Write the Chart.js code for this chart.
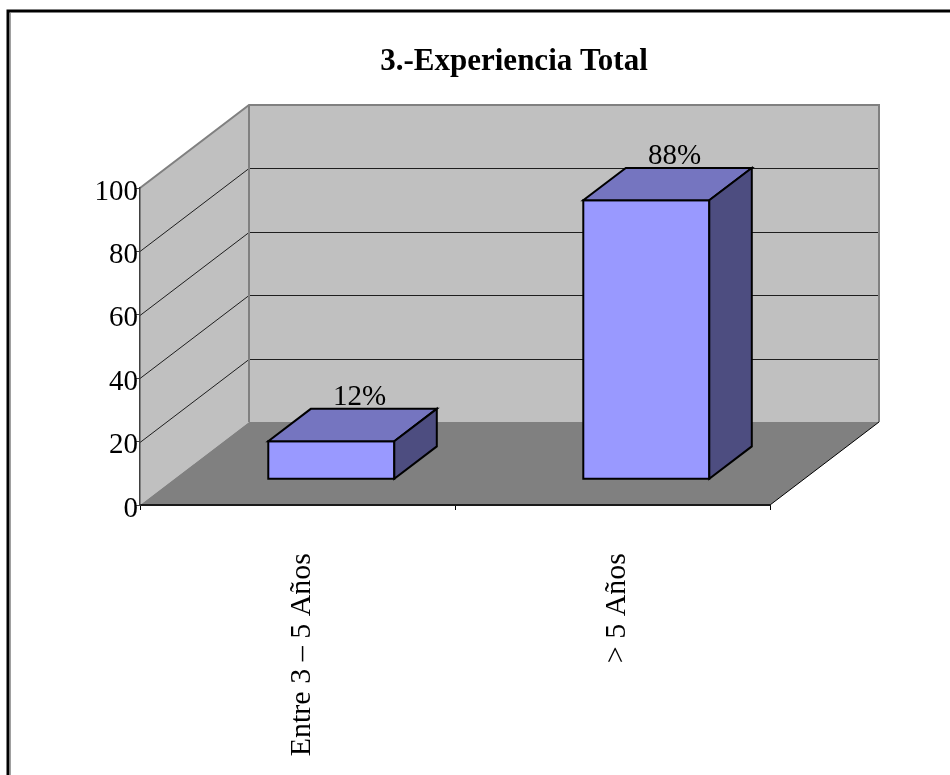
<!DOCTYPE html>
<html>
<head>
<meta charset="utf-8">
<script src="https://cdn.jsdelivr.net/npm/chart.js@4/dist/chart.umd.min.js"></script>
<style>
  html, body { margin: 0; padding: 0; background: #fff; }
  #wrap { width: 950px; height: 775px; position: relative; }
</style>
</head>
<body>
<div id="wrap"><canvas id="chart" width="950" height="775"></canvas></div>
<script>
// ---- data ----
const CHART_TITLE = '3.-Experiencia Total';
const categories = ['Entre 3 \u2013 5 A\u00f1os', '> 5 A\u00f1os'];
const percentValues = [12, 88];
const yTickValues = [0, 20, 40, 60, 80, 100];

// ---- 3D look ----
const DEPTH_X = 109;     // horizontal shift from front plane to back wall
const DEPTH_Y = 83;      // vertical shift from front plane to back wall
const BAR_FRONT = 0.31;  // bar front face position in depth (0 = front, 1 = back)
const BAR_BACK = 0.70;   // bar back face position in depth
const SERIF = '"Liberation Serif", "Times New Roman", serif';

const WALL = '#c0c0c0';
const WALL_EDGE = '#808080';
const FLOOR = '#808080';
const BAR_FRONT_COLOR = '#9999ff';
const BAR_TOP_COLOR = '#7575c0';
const BAR_SIDE_COLOR = '#4d4d80';

function poly(ctx, pts) {
  ctx.beginPath();
  ctx.moveTo(pts[0][0], pts[0][1]);
  for (let i = 1; i < pts.length; i++) ctx.lineTo(pts[i][0], pts[i][1]);
  ctx.closePath();
}

const room3d = {
  id: 'room3d',
  beforeDraw(chart) {
    const { ctx, chartArea: a, scales: { y } } = chart;
    const y0 = y.getPixelForValue(y.min);
    const yMax = y.getPixelForValue(y.max);
    const L = a.left, R = a.right;
    ctx.save();

    // outer frame
    ctx.strokeStyle = '#000';
    ctx.lineWidth = 3;
    ctx.beginPath();
    ctx.moveTo(8, 775);
    ctx.lineTo(8, 11);
    ctx.lineTo(950, 11);
    ctx.stroke();
    ctx.strokeStyle = '#a0a0a0';
    ctx.lineWidth = 1;
    ctx.beginPath();
    ctx.moveTo(10.5, 13);
    ctx.lineTo(10.5, 775);
    ctx.stroke();

    // title
    ctx.fillStyle = '#000';
    ctx.font = 'bold 31px ' + SERIF;
    ctx.textAlign = 'center';
    ctx.textBaseline = 'alphabetic';
    ctx.fillText(CHART_TITLE, 514, 70);

    // left wall
    ctx.fillStyle = WALL;
    poly(ctx, [[L, y0], [L, yMax], [L + DEPTH_X, yMax - DEPTH_Y], [L + DEPTH_X, y0 - DEPTH_Y]]);
    ctx.fill();
    // back wall
    ctx.fillRect(L + DEPTH_X, yMax - DEPTH_Y, R - L, y0 - yMax);
    // floor
    ctx.fillStyle = FLOOR;
    poly(ctx, [[L, y0], [R, y0], [R + DEPTH_X, y0 - DEPTH_Y], [L + DEPTH_X, y0 - DEPTH_Y]]);
    ctx.fill();

    // gridlines on both walls
    ctx.strokeStyle = '#1e1e1e';
    ctx.lineWidth = 1;
    y.ticks.forEach(t => {
      if (t.value <= y.min || t.value >= y.max) return;
      const py = Math.round(y.getPixelForValue(t.value)) + 0.5;
      ctx.beginPath();
      ctx.moveTo(L, py);
      ctx.lineTo(L + DEPTH_X, py - DEPTH_Y);
      ctx.lineTo(R + DEPTH_X, py - DEPTH_Y);
      ctx.stroke();
    });

    // wall edges
    ctx.strokeStyle = WALL_EDGE;
    ctx.lineWidth = 2;
    ctx.beginPath();
    ctx.moveTo(L, yMax);
    ctx.lineTo(L + DEPTH_X, yMax - DEPTH_Y);
    ctx.lineTo(R + DEPTH_X, yMax - DEPTH_Y);
    ctx.lineTo(R + DEPTH_X, y0 - DEPTH_Y);
    ctx.stroke();
    ctx.beginPath();
    ctx.moveTo(L + DEPTH_X, yMax - DEPTH_Y);
    ctx.lineTo(L + DEPTH_X, y0 - DEPTH_Y);
    ctx.stroke();

    // floor right edge
    ctx.strokeStyle = '#000';
    ctx.lineWidth = 1;
    ctx.beginPath();
    ctx.moveTo(R, y0);
    ctx.lineTo(R + DEPTH_X, y0 - DEPTH_Y);
    ctx.stroke();
    ctx.restore();
  },
  afterDatasetsDraw(chart) {
    const { ctx } = chart;
    const meta = chart.getDatasetMeta(0);
    const fx = BAR_FRONT * DEPTH_X, fy = BAR_FRONT * DEPTH_Y;
    const dx = (BAR_BACK - BAR_FRONT) * DEPTH_X, dy = (BAR_BACK - BAR_FRONT) * DEPTH_Y;
    ctx.save();
    ctx.lineWidth = 2;
    ctx.lineJoin = 'miter';
    ctx.strokeStyle = '#000';
    meta.data.forEach((bar, i) => {
      const p = bar.getProps(['x', 'y', 'base', 'width'], true);
      const Lx = p.x - p.width / 2 + fx, Rx = p.x + p.width / 2 + fx;
      const T = p.y - fy, B = p.base - fy;
      // front
      ctx.fillStyle = BAR_FRONT_COLOR;
      poly(ctx, [[Lx, T], [Rx, T], [Rx, B], [Lx, B]]);
      ctx.fill(); ctx.stroke();
      // top
      ctx.fillStyle = BAR_TOP_COLOR;
      poly(ctx, [[Lx, T], [Rx, T], [Rx + dx, T - dy], [Lx + dx, T - dy]]);
      ctx.fill(); ctx.stroke();
      // side
      ctx.fillStyle = BAR_SIDE_COLOR;
      poly(ctx, [[Rx, T], [Rx + dx, T - dy], [Rx + dx, B - dy], [Rx, B]]);
      ctx.fill(); ctx.stroke();
      // value label
      ctx.fillStyle = '#000';
      ctx.font = '29px ' + SERIF;
      ctx.textAlign = 'center';
      ctx.textBaseline = 'alphabetic';
      ctx.fillText(percentValues[i] + '%', p.x + 0.57 * DEPTH_X, T - dy - 4);
    });
    ctx.restore();
  }
};

new Chart(document.getElementById('chart'), {
  type: 'bar',
  data: {
    labels: categories,
    datasets: [{
      data: percentValues,
      backgroundColor: 'rgba(0,0,0,0)',
      borderWidth: 0,
      categoryPercentage: 0.4,
      barPercentage: 1
    }]
  },
  options: {
    responsive: false,
    animation: false,
    devicePixelRatio: 1,
    layout: { padding: { left: 20, top: 188, right: 180, bottom: 0 } },
    plugins: { legend: { display: false }, tooltip: { enabled: false }, title: { display: false } },
    scales: {
      x: {
        ticks: {
          font: { family: SERIF, size: 30 }, color: '#000',
          minRotation: 90, maxRotation: 90, autoSkip: false,
          padding: 43, labelOffset: 5
        },
        grid: { drawOnChartArea: false, tickLength: 5, color: '#000', offset: true },
        border: { color: '#1a1a1a', width: 2 },
        afterFit(s) { s.height = 270; }
      },
      y: {
        min: 0, max: 100,
        afterBuildTicks(s) { s.ticks = yTickValues.map(v => ({ value: v })); },
        ticks: {
          font: { family: SERIF, size: 29 }, color: '#000',
          padding: -2, labelOffset: 4
        },
        grid: { drawOnChartArea: false, tickLength: 4, color: '#404040' },
        border: { color: '#404040', width: 1.5 },
        afterFit(s) { s.width = 120; }
      }
    }
  },
  plugins: [room3d]
});
</script>
</body>
</html>
